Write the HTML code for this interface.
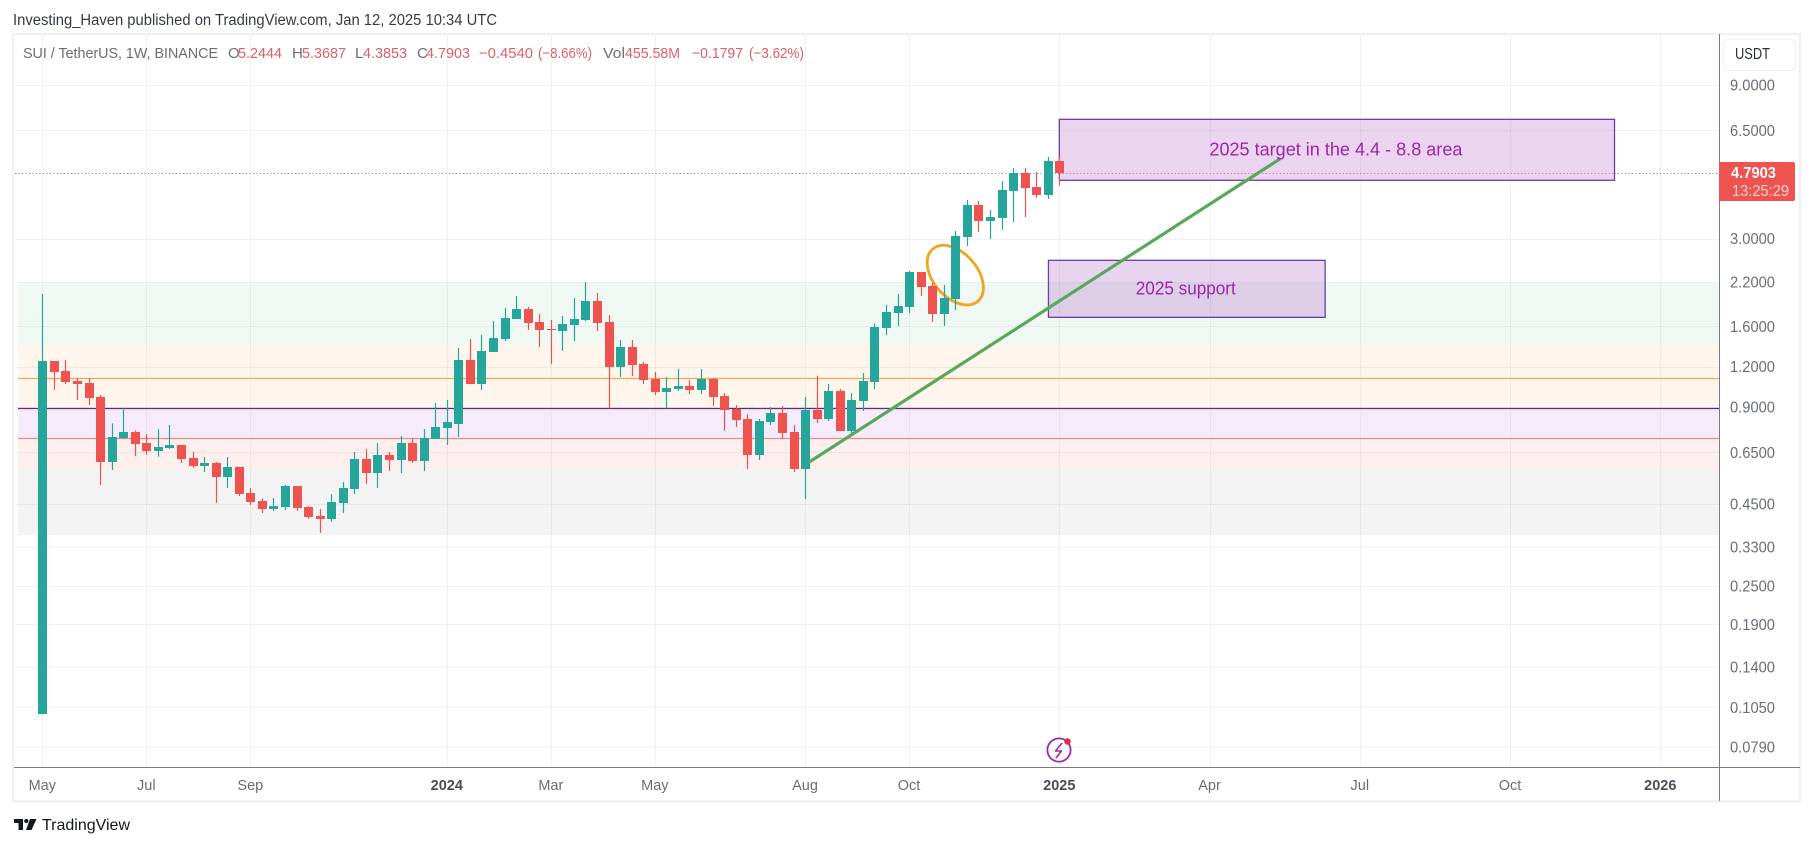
<!DOCTYPE html>
<html lang="en">
<head>
<meta charset="utf-8">
<title>SUI / TetherUS weekly chart</title>
<style>
html,body{margin:0;padding:0;background:#fff;width:1814px;height:846px;overflow:hidden}
svg{display:block;font-family:"Liberation Sans",sans-serif}
</style>
</head>
<body>
<svg id="chart" xmlns="http://www.w3.org/2000/svg" width="1814" height="846" viewBox="0 0 1814 846">
  <rect x="0" y="0" width="1814" height="846" fill="#ffffff"/>
  <text x="13" y="25" font-size="15.5" fill="#363a45" textLength="484" lengthAdjust="spacingAndGlyphs">Investing_Haven published on TradingView.com, Jan 12, 2025 10:34 UTC</text>
  <rect x="13" y="34" width="1787" height="767.5" fill="none" stroke="#f0f1f4" stroke-width="2.5"/>
  <g id="zones"></g>
  <g id="grid"></g>
  <g id="levels"></g>
  <line id="lastLine" stroke="#787b86" stroke-width="1" stroke-dasharray="1 2.5"/>
  <line id="lastLineRight" stroke="#787b86" stroke-width="1" stroke-dasharray="1 2.5"/>
  <rect id="targetBox" fill="#9c27b0" fill-opacity="0.2" stroke="#6a3fa3" stroke-width="1.3"/>
  <rect id="supportBox" fill="#8a27b0" fill-opacity="0.2" stroke="#6a3fa3" stroke-width="1.3"/>
  <line id="lastLineInner" stroke="#e0559a" stroke-width="1" stroke-dasharray="1 2.5"/>
  <ellipse id="ringMark" fill="none" stroke="#f2a41f" stroke-width="2.8"/>
  <g id="candles"></g>
  <line id="trendLine" stroke="#58a85c" stroke-width="3.2" stroke-linecap="round"/>
  <text id="targetText" font-size="18.5" fill="#9c27a8" text-anchor="middle" textLength="253" lengthAdjust="spacingAndGlyphs">2025 target in the 4.4 - 8.8 area</text>
  <text id="supportText" font-size="18.5" fill="#9c27a8" text-anchor="middle" textLength="100" lengthAdjust="spacingAndGlyphs">2025 support</text>

  <g font-size="15">
    <text x="23" y="58" fill="#6a6d78" textLength="195" lengthAdjust="spacingAndGlyphs">SUI / TetherUS, 1W, BINANCE</text>
    <text x="228" y="58" fill="#6a6d78">O</text>
    <text x="238" y="58" fill="#dd5f68" textLength="44" lengthAdjust="spacingAndGlyphs">5.2444</text>
    <text x="292" y="58" fill="#6a6d78">H</text>
    <text x="302" y="58" fill="#dd5f68" textLength="44" lengthAdjust="spacingAndGlyphs">5.3687</text>
    <text x="355" y="58" fill="#6a6d78">L</text>
    <text x="363" y="58" fill="#dd5f68" textLength="44" lengthAdjust="spacingAndGlyphs">4.3853</text>
    <text x="417" y="58" fill="#6a6d78">C</text>
    <text x="426" y="58" fill="#dd5f68" textLength="44" lengthAdjust="spacingAndGlyphs">4.7903</text>
    <text x="479" y="58" fill="#dd5f68" textLength="54" lengthAdjust="spacingAndGlyphs">−0.4540</text>
    <text x="538" y="58" fill="#dd5f68" textLength="54" lengthAdjust="spacingAndGlyphs">(−8.66%)</text>
    <text x="603" y="58" fill="#6a6d78" textLength="22" lengthAdjust="spacingAndGlyphs">Vol</text>
    <text x="625" y="58" fill="#dd5f68" textLength="55" lengthAdjust="spacingAndGlyphs">455.58M</text>
    <text x="692" y="58" fill="#dd5f68" textLength="51" lengthAdjust="spacingAndGlyphs">−0.1797</text>
    <text x="749" y="58" fill="#dd5f68" textLength="55" lengthAdjust="spacingAndGlyphs">(−3.62%)</text>
  </g>

  <line x1="1719.5" y1="34" x2="1719.5" y2="801" stroke="#787b86" stroke-width="1"/>
  <line x1="14" y1="767.5" x2="1800" y2="767.5" stroke="#787b86" stroke-width="1"/>
  <g id="priceLabels"></g>
  <g id="timeLabels"></g>

  <rect x="1723.5" y="39.5" width="72" height="31" rx="5" fill="#ffffff" stroke="#f0f1f4" stroke-width="1.2"/>
  <text x="1735" y="59" font-size="15.5" fill="#2a2e39" textLength="35" lengthAdjust="spacingAndGlyphs">USDT</text>

  <rect x="1719" y="162" width="76" height="39" rx="2" fill="#ef5350"/>
  <text x="1731" y="178" font-size="15.5" font-weight="bold" fill="#ffffff" textLength="45" lengthAdjust="spacingAndGlyphs">4.7903</text>
  <text x="1732" y="196" font-size="15.5" fill="#fcd2cf" textLength="57" lengthAdjust="spacingAndGlyphs">13:25:29</text>

  <g>
    <circle cx="1059" cy="750" r="11.6" fill="#ffffff" stroke="#9c27b0" stroke-width="1.8"/>
    <polyline points="1062,743 1055.5,751 1061.5,751 1056,758" fill="none" stroke="#9c27b0" stroke-width="1.6" stroke-linejoin="round"/>
    <circle cx="1067.5" cy="741.5" r="3.2" fill="#e5263f"/>
  </g>

  <g>
    <polygon points="14,819 23,819 23,830 18.5,830 18.5,823 14,823" fill="#131722"/>
    <circle cx="26.3" cy="821" r="2.1" fill="#131722"/>
    <polygon points="30,819 36.5,819 31.5,830 26,830" fill="#131722"/>
    <text x="42" y="830" font-size="16" fill="#131722" textLength="88" lengthAdjust="spacingAndGlyphs">TradingView</text>
  </g>
</svg>
<script>
var opens = [0.100,1.250,1.1635,1.083,1.068,0.966,0.607,0.7206,0.752,0.695,0.6566,0.6708,0.6853,0.6245,0.5897,0.6025,0.5451,0.5855,0.4861,0.4591,0.4336,0.4398,0.5112,0.4398,0.4124,0.4036,0.4526,0.5003,0.620,0.5609,0.638,0.6156,0.695,0.6112,0.7154,0.7739,0.7964,1.2588,1.060,1.3329,1.4628,1.6877,1.8129,1.652,1.5713,1.549,1.6169,1.6758,1.9197,1.652,1.1973,1.3814,1.2233,1.0988,1.0013,1.023,1.0452,1.0157,1.0988,0.973,0.8866,0.8254,0.638,0.8079,0.8616,0.752,0.5772,0.8803,0.8254,1.0085,0.7576,0.9389,1.0755,1.5826,1.7618,1.839,2.3623,2.1372,1.7492,1.9474,3.034,3.815,3.402,3.476,4.217,4.796,4.339,4.098,5.2444];
var highs = [2.018,1.250,1.259,1.104,1.104,0.980,0.800,0.891,0.761,0.7415,0.768,0.7907,0.6853,0.6519,0.629,0.607,0.629,0.5855,0.5039,0.468,0.4691,0.515,0.5112,0.443,0.4336,0.4827,0.526,0.6519,0.666,0.695,0.6519,0.7309,0.7188,0.768,0.9255,0.9456,1.3716,1.4628,1.5053,1.6639,1.8259,1.9896,1.839,1.7492,1.6758,1.7244,1.9614,2.1992,2.0328,1.7367,1.4524,1.4524,1.2409,1.1553,1.1147,1.1803,1.091,1.1803,1.1067,0.9941,0.912,0.8555,0.8254,0.8994,0.9059,0.7907,0.966,1.1227,1.060,1.023,0.9941,1.147,1.6363,1.8656,2.018,2.3792,2.3623,2.1835,2.1525,3.1675,3.954,3.926,3.681,4.529,4.971,4.971,4.831,5.378,5.3687];
var lows = [0.100,1.016,1.060,0.946,0.912,0.515,0.573,0.7154,0.6335,0.638,0.6305,0.666,0.6025,0.5813,0.565,0.4526,0.5039,0.4758,0.4462,0.4214,0.4274,0.4305,0.4274,0.4036,0.3652,0.3951,0.4214,0.4827,0.5186,0.5039,0.569,0.5609,0.6025,0.569,0.7154,0.6853,0.726,1.060,1.0157,1.3329,1.442,1.6877,1.5601,1.3814,1.2233,1.3425,1.442,1.6639,1.549,0.891,1.1147,1.1227,1.060,0.980,0.891,1.0085,0.987,0.987,0.9059,0.7576,0.7795,0.5772,0.6156,0.7907,0.7154,0.565,0.4657,0.8021,0.8137,0.7576,0.7415,0.874,1.023,1.5053,1.6054,1.7618,1.9896,1.652,1.6054,1.8,2.845,3.145,2.991,3.19,3.378,3.501,4.011,3.982,4.3853];
var closes = [1.250,1.155,1.0755,1.060,0.959,0.607,0.726,0.752,0.690,0.6566,0.6756,0.6853,0.620,0.5897,0.6025,0.5451,0.5855,0.4827,0.4558,0.4336,0.443,0.5112,0.4367,0.4095,0.4036,0.4558,0.5039,0.620,0.5609,0.638,0.6156,0.695,0.6112,0.7206,0.7795,0.8079,1.2588,1.060,1.3425,1.4733,1.6999,1.8129,1.6402,1.5601,1.5601,1.6285,1.6877,1.9197,1.6402,1.1973,1.3814,1.2146,1.091,1.0013,1.0303,1.0452,1.0157,1.0988,0.966,0.8803,0.8195,0.638,0.8137,0.8616,0.7468,0.5772,0.8803,0.8254,1.0085,0.7576,0.9456,1.083,1.5939,1.7744,1.8523,2.3623,2.1219,1.7492,1.9614,3.056,3.815,3.402,3.501,4.247,4.796,4.308,4.098,5.2444,4.7903];

var priceTicks = ["9.0000","6.5000","3.0000","2.2000","1.6000","1.2000","0.9000","0.6500","0.4500","0.3300","0.2500","0.1900","0.1400","0.1050","0.0790"];
var timeTickLabels = ["May","Jul","Sep","2024","Mar","May","Aug","Oct","2025","Apr","Jul","Oct","2026"];
var timeTickBars = [0,9,18,35,44,53,66,75,88,101,114,127,140];

var zoneNames = ["zone-green","zone-orange","zone-purple","zone-pink","zone-gray"];
var zoneTops = [2.188,1.401,0.891,0.719,0.573];
var zoneBottoms = [1.401,0.891,0.719,0.573,0.360];
var zoneColors = ["#f0f8f4","#fef5ec","#f6ebfb","#feefef","#f3f3f4"];
var levelNames = ["level-orange","level-purple","level-salmon"];
var levelPrices = [1.104,0.891,0.719];
var levelColors = ["#f0a85a","#5e2d80","#e98c86"];

var lastPrice = 4.7903;
var targetBars = [88,136.04];
var targetPrices = [7.04,4.552];
var supportBars = [87.06,111];
var supportPrices = [2.568,1.708];
var trendBars = [66.4,107.04];
var trendPrices = [0.608,5.289];
var ringBar = 79;
var ringPrice = 2.31;

function xAt(bar){ return 42.3 + 11.557 * bar; }
function yAt(price){ return 85 + 139.8 * Math.log(9 / price); }

var NS = 'http://www.w3.org/2000/svg';
function mk(tag, parentId, attrs){
  var el = document.createElementNS(NS, tag);
  for (var k in attrs) el.setAttribute(k, attrs[k]);
  document.getElementById(parentId).appendChild(el);
  return el;
}
function setAttrs(id, attrs){
  var el = document.getElementById(id);
  for (var k in attrs) el.setAttribute(k, attrs[k]);
  return el;
}

var bandLeft = 18, plotRight = 1719;
zoneTops.forEach(function(top, i){
  var y0 = yAt(top), y1 = yAt(zoneBottoms[i]);
  var el = mk('rect', 'zones', {x: bandLeft, y: y0, width: plotRight - bandLeft, height: y1 - y0, fill: zoneColors[i]});
  
  
});

priceTicks.forEach(function(t){
  var y = Math.round(yAt(parseFloat(t))) + 0.5;
  var el = mk('line', 'grid', {x1: 15, x2: plotRight, y1: y, y2: y, stroke: '#000', 'stroke-opacity': 0.05, 'stroke-width': 1});
  
  
  var tx = mk('text', 'priceLabels', {x: 1730, y: yAt(parseFloat(t)) + 5.5, 'font-size': 15.5, fill: '#6a6d78', textLength: 45, lengthAdjust: 'spacingAndGlyphs'});
  
  
  tx.textContent = t;
});

timeTickBars.forEach(function(b, i){
  var x = Math.round(xAt(b)) + 0.5;
  var el = mk('line', 'grid', {x1: x, x2: x, y1: 35, y2: 767, stroke: '#000', 'stroke-opacity': 0.05, 'stroke-width': 1});
  
  
  var lab = timeTickLabels[i];
  var major = /^\d+$/.test(lab);
  var tx = mk('text', 'timeLabels', {x: xAt(b), y: 790, 'font-size': 14.5, fill: major ? '#4a4d58' : '#6a6d78', 'font-weight': major ? 'bold' : 'normal', 'text-anchor': 'middle'});
  
  
  tx.textContent = lab;
});

levelPrices.forEach(function(p, i){
  var y = Math.round(yAt(p)) + 0.5;
  var el = mk('line', 'levels', {x1: bandLeft, x2: plotRight, y1: y, y2: y, stroke: levelColors[i], 'stroke-width': 1.2});
  
  
});

var lastY = Math.round(yAt(lastPrice)) + 0.5;
setAttrs('lastLine', {x1: 15, x2: xAt(targetBars[0]), y1: lastY, y2: lastY});
setAttrs('lastLineRight', {x1: xAt(targetBars[1]), x2: plotRight, y1: lastY, y2: lastY});
setAttrs('lastLineInner', {x1: xAt(targetBars[0]), x2: xAt(targetBars[1]), y1: lastY, y2: lastY});

function placeBox(id, textId, bars, prices){
  var x0 = xAt(bars[0]), x1 = xAt(bars[1]), y0 = yAt(prices[0]), y1 = yAt(prices[1]);
  setAttrs(id, {x: x0, y: y0, width: x1 - x0, height: y1 - y0});
  setAttrs(textId, {x: (x0 + x1) / 2 - 1, y: (y0 + y1) / 2 + 5.5});
}
placeBox('targetBox', 'targetText', targetBars, targetPrices);
placeBox('supportBox', 'supportText', supportBars, supportPrices);

opens.forEach(function(o, i){
  var c = closes[i], up = c >= o, col = up ? '#26a69a' : '#ef5350';
  var cx = Math.round(xAt(i));
  var top = Math.round(yAt(Math.max(o, c))), bot = Math.round(yAt(Math.min(o, c)));
  var g = mk('g', 'candles', {});
  
  
  var wick = document.createElementNS(NS, 'line');
  wick.setAttribute('x1', cx + 0.5);
  wick.setAttribute('x2', cx + 0.5);
  wick.setAttribute('y1', yAt(highs[i]));
  wick.setAttribute('y2', yAt(lows[i]));
  wick.setAttribute('stroke', col);
  wick.setAttribute('stroke-width', 1.2);
  
  
  g.appendChild(wick);
  var body = document.createElementNS(NS, 'rect');
  body.setAttribute('x', cx - 4);
  body.setAttribute('width', 9);
  body.setAttribute('y', top);
  body.setAttribute('height', Math.max(1, bot - top));
  body.setAttribute('fill', col);
  
  
  g.appendChild(body);
});

setAttrs('trendLine', {x1: xAt(trendBars[0]), y1: yAt(trendPrices[0]), x2: xAt(trendBars[1]), y2: yAt(trendPrices[1])});
var rx = xAt(ringBar), ry = yAt(ringPrice);
setAttrs('ringMark', {cx: rx, cy: ry, rx: 34.5, ry: 22, transform: 'rotate(49 ' + rx + ' ' + ry + ')'});
</script>
</body>
</html>
